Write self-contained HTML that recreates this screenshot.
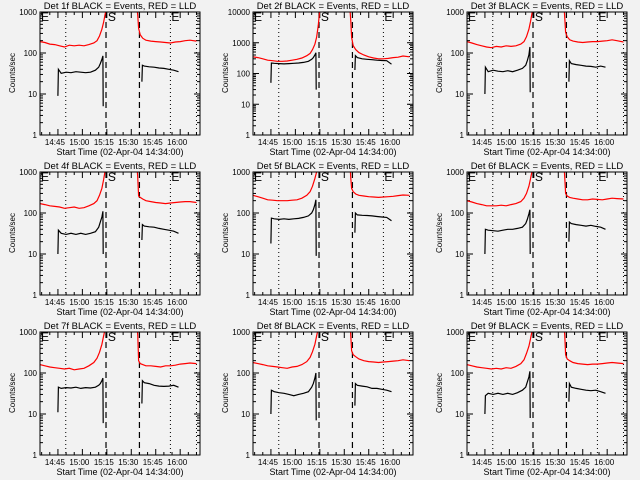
<!DOCTYPE html>
<html><head><meta charset="utf-8"><style>
html,body{margin:0;padding:0;background:#f2f2f2;}
svg{display:block;font-family:"Liberation Sans",sans-serif;}
</style></head><body>
<svg id="chart" width="640" height="480" viewBox="0 0 640 480" xmlns="http://www.w3.org/2000/svg">
<rect width="640" height="480" fill="#f2f2f2"/>
</svg>
<script>
const redPreT=[0,3,6,9,12,15,18,21,24,27,30,33,35,36.5,38,39,40,41];
const redPostT=[59.5,60,60.5,61.5,63,65,68,71,74,77,80,83,86,89,92,96];
const blkPreT=[11,11.3,13,16,19,22,25,28,31,34,36,37,38,38.6,38.8];
const blkPostT=[62.5,62.8,64,67,70,73,76,79,82,85];
const xTickLabels=["14:45","15:00","15:15","15:30","15:45","16:00"];
const xTickMin=[11,26,41,56,71,86];
const dottedT=[15.8,80,96];
const dashedT=[40.5,61];
const markerLabels=["E","S","E"];
const markerT=[0,41,80];
const detNames=["1f","2f","3f","4f","5f","6f","7f","8f","9f"];
const decades=[3,4,3,3,3,3,3,3,3];

const red1Pre=[190,180,165,160,150,140,155,150,155,150,160,175,200,260,380,560,900,1300];
const red1Post=[1300,800,400,280,230,205,195,190,185,180,175,185,190,200,205,195];
const blk1Pre=[9,40,32,34,33,35,34,33,34,38,45,55,70,85,5];
const blk1Post=[20,50,48,46,45,43,42,40,38,35];
const red2Pre=[350,330,300,270,260,250,250,255,270,290,320,380,450,600,900,1500,3500,12000];
const red2Post=[12000,5000,1500,800,600,480,400,350,320,300,300,310,330,340,370,350];
const blk2Pre=[50,220,215,210,205,210,215,220,230,250,290,330,400,470,30];
const blk2Post=[130,380,330,300,290,280,270,265,260,200];
const red3Pre=[190,175,160,150,140,135,145,140,150,145,150,165,190,250,380,600,1000,1400];
const red3Post=[1400,700,320,250,210,195,185,180,185,190,190,195,200,210,200,185];
const blk3Pre=[10,45,35,38,36,35,37,35,38,42,50,65,90,140,11];
const blk3Post=[20,65,55,52,50,48,47,45,48,45];
const red4Pre=[170,160,150,145,140,130,135,140,130,135,150,170,200,270,400,650,1100,1400];
const red4Post=[1400,700,260,240,220,200,190,180,175,170,175,180,185,190,190,180];
const blk4Pre=[10,38,32,30,32,30,32,30,32,35,45,60,80,110,10];
const blk4Post=[22,52,48,46,45,42,40,38,36,32];
const red5Pre=[270,250,230,210,205,200,200,200,205,210,230,270,330,450,700,1000,1500,2000];
const red5Post=[1500,700,400,330,290,270,260,250,245,240,245,250,255,265,275,270];
const blk5Pre=[18,75,72,70,72,70,72,74,78,85,100,120,160,210,9];
const blk5Post=[33,100,90,88,87,85,82,80,78,65];
const red6Pre=[200,185,170,160,150,150,150,155,150,160,170,190,230,300,450,700,1100,1500];
const red6Post=[1500,700,300,260,240,230,220,210,210,220,215,210,220,230,225,220];
const blk6Pre=[10,40,38,37,36,38,40,40,42,45,55,70,95,120,10];
const blk6Post=[20,60,55,52,50,48,50,47,45,40];
const red7Pre=[160,150,140,135,130,125,130,120,125,130,150,180,230,320,500,800,1200,1600];
const red7Post=[1600,800,200,170,160,150,150,145,140,150,150,155,165,170,175,170];
const blk7Pre=[11,45,42,44,43,45,42,44,43,45,50,55,65,75,6];
const blk7Post=[18,65,58,55,50,48,47,48,50,45];
const red8Pre=[180,170,160,150,145,140,135,130,140,145,160,190,240,330,500,800,1200,1600];
const red8Post=[1600,800,350,280,250,220,200,190,185,180,185,190,195,200,210,200];
const blk8Pre=[10,38,35,33,32,30,28,30,32,35,45,55,75,100,7];
const blk8Post=[16,55,50,48,46,42,42,40,38,35];
const red9Pre=[160,150,140,135,130,125,130,125,135,130,145,170,210,300,450,700,1100,1500];
const red9Post=[1500,800,280,220,200,180,170,165,160,165,165,170,175,180,175,170];
const blk9Pre=[10,28,32,30,32,30,32,30,33,38,45,60,80,110,8];
const blk9Post=[20,55,45,42,40,38,37,38,35,32];

const redPre=[red1Pre,red2Pre,red3Pre,red4Pre,red5Pre,red6Pre,red7Pre,red8Pre,red9Pre];
const redPost=[red1Post,red2Post,red3Post,red4Post,red5Post,red6Post,red7Post,red8Post,red9Post];
const blkPre=[blk1Pre,blk2Pre,blk3Pre,blk4Pre,blk5Pre,blk6Pre,blk7Pre,blk8Pre,blk9Pre];
const blkPost=[blk1Post,blk2Post,blk3Post,blk4Post,blk5Post,blk6Post,blk7Post,blk8Post,blk9Post];

const NS="http://www.w3.org/2000/svg";
const svg=document.getElementById('chart');
function mk(tag,attrs,parent){const e=document.createElementNS(NS,tag);for(const k in attrs)e.setAttribute(k,attrs[k]);parent.appendChild(e);return e;}

for(let p=0;p<9;p++){
  const ox=Math.round((p%3)*213.3), oy=Math.floor(p/3)*160;
  const x0=ox+40,x1=ox+200,y0=oy+12,y1=oy+135;
  const dec=decades[p];
  const xs=t=>x0+t*1.63;
  const ys=v=>y1-(Math.log10(Math.max(v,0.5))/dec)*(y1-y0);
  const g=mk('g',{},svg);
  
  
  const clip=mk('clipPath',{id:'c'+p},g);
  mk('rect',{x:x0,y:y0,width:x1-x0,height:y1-y0},clip);
  // title
  const tt=mk('text',{x:ox+120,y:oy+9,'font-size':'9.5','text-anchor':'middle',fill:'#000'},g);
  tt.textContent='Det '+detNames[p]+' BLACK = Events, RED = LLD';
  
  
  // x axis title
  const xt=mk('text',{x:ox+120,y:oy+155,'font-size':'9','text-anchor':'middle',fill:'#000'},g);
  xt.textContent='Start Time (02-Apr-04 14:34:00)';
  
  
  // y axis title
  const yt=mk('text',{x:0,y:0,'font-size':'8','text-anchor':'middle',fill:'#000',transform:`translate(${ox+15},${oy+73}) rotate(-90)`},g);
  yt.textContent='Counts/sec';
  
  
  // y ticks
  for(let d=0;d<=dec;d++){
    const v=Math.pow(10,d),y=ys(v);
    mk('line',{x1:x0,x2:x0+6,y1:y,y2:y,stroke:'#000','stroke-width':1},g);
    mk('line',{x1:x1-6,x2:x1,y1:y,y2:y,stroke:'#000','stroke-width':1},g);
    const lb=mk('text',{x:x0-3,y:y+3,'font-size':'8','text-anchor':'end',fill:'#000'},g);
    lb.textContent=String(v);
    
    
    if(d<dec)for(let m=2;m<10;m++){const ym=ys(v*m);
      mk('line',{x1:x0,x2:x0+3,y1:ym,y2:ym,stroke:'#000','stroke-width':1},g);
      mk('line',{x1:x1-3,x2:x1,y1:ym,y2:ym,stroke:'#000','stroke-width':1},g);}
  }
  // x ticks
  for(let t=1;t<98;t+=5){const x=xs(t);const maj=xTickMin.includes(t);const L=maj?6:3;
    mk('line',{x1:x,x2:x,y1:y1,y2:y1-L,stroke:'#000','stroke-width':1},g);
    mk('line',{x1:x,x2:x,y1:y0,y2:y0+L,stroke:'#000','stroke-width':1},g);}
  xTickMin.forEach((t,i)=>{const lb=mk('text',{x:xs(t)-3,y:y1+10,'font-size':'8','text-anchor':'middle',fill:'#000'},g);
    lb.textContent=xTickLabels[i];
    
    });
  // verticals
  dottedT.forEach(t=>{const l=mk('line',{x1:xs(t),x2:xs(t),y1:y0,y2:y1,stroke:'#000','stroke-width':1,'stroke-dasharray':'1,3'},g);
    
    });
  dashedT.forEach(t=>{const l=mk('line',{x1:xs(t),x2:xs(t),y1:y0,y2:y1,stroke:'#000','stroke-width':1.2,'stroke-dasharray':'6,4'},g);
    
    });
  markerLabels.forEach((s,i)=>{const lb=mk('text',{x:xs(markerT[i])+1,y:y0+9,'font-size':'12',fill:'#000'},g);
    lb.textContent=s;
    
    });
  // series
  const cg=mk('g',{'clip-path':`url(#c${p})`},g);
  function line(T,V,col,name){const pts=T.map((t,i)=>xs(t).toFixed(1)+','+ys(V[i]).toFixed(1)).join(' ');
    const pl=mk('polyline',{points:pts,fill:'none',stroke:col,'stroke-width':1.2},cg);
    
    }
  line(redPreT,redPre[p],'#ff0000','lld-rate-pre');
  line(redPostT,redPost[p],'#ff0000','lld-rate-post');
  line(blkPreT,blkPre[p],'#000000','event-rate-pre');
  line(blkPostT,blkPost[p],'#000000','event-rate-post');
  // box
  const bx=mk('rect',{x:x0,y:y0,width:x1-x0,height:y1-y0,fill:'none',stroke:'#000','stroke-width':1},g);
  
  
}
</script>
</body></html>
